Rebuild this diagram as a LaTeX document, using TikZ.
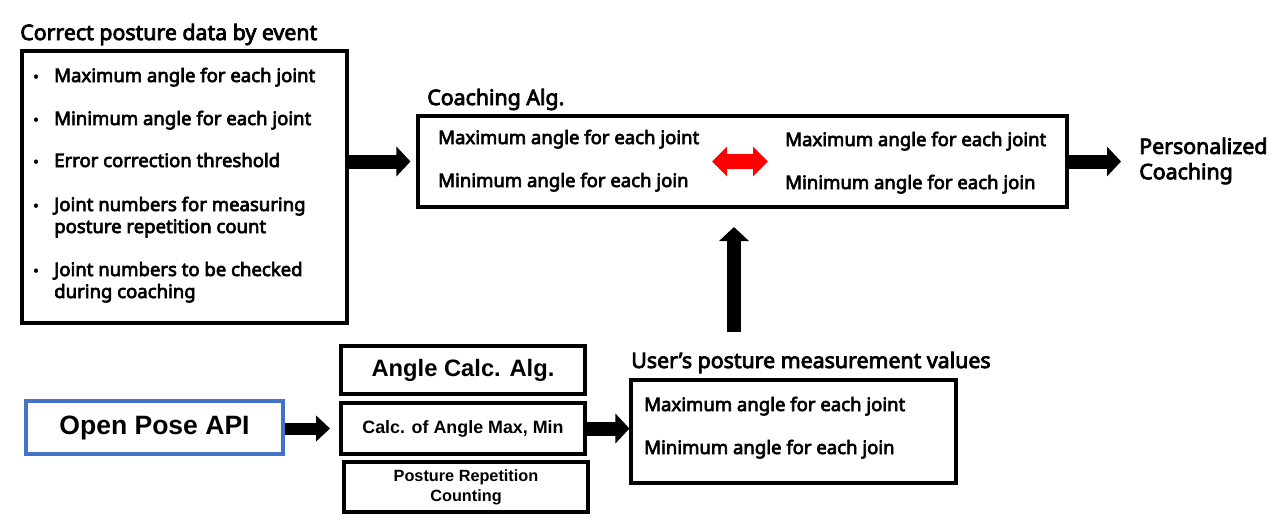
\documentclass[tikz,border=0pt]{standalone}
\usepackage{fontspec}
\setmainfont{Noto Sans}[AutoFakeBold=3.6]
\newfontfamily\arialf{Liberation Sans}
\usetikzlibrary{arrows.meta,fit}
\definecolor{opblue}{HTML}{4472C4}
\definecolor{arred}{HTML}{FF0000}
\begin{document}
\begin{tikzpicture}[x=0.75pt,y=-0.75pt,
  box/.style={draw=black,line width=2.3pt,inner sep=0pt},
  lbox/.style={draw=black,line width=2.7pt,inner sep=0pt},
  txt/.style={inner sep=0pt,anchor=base west,font=\fontsize{13.9pt}{16pt}\selectfont\bfseries},
  ttl/.style={inner sep=0pt,anchor=base west,font=\fontsize{16pt}{18pt}\selectfont\bfseries},
  bul/.style={inner sep=0pt,anchor=base,font=\fontsize{11pt}{13pt}\selectfont\bfseries},
  blk/.style={draw=black,line width=10.5pt,-{Triangle[length=10.5pt,width=21.75pt]}},
  arl/.style={inner sep=0pt}
]
\useasboundingbox (0,0) rectangle (1282,526);

% top-left block
\node[ttl] (t1) at (20,40) {Correct posture data by event};
\node[box,fit={(22,51)(347,323)}] (box1) {};
\node[bul] (b1) at (36,82) {•};
\node[txt] (l1) at (54,82) {Maximum angle for each joint};
\node[bul] (b2) at (36,125) {•};
\node[txt] (l2) at (54,125) {Minimum angle for each joint};
\node[bul] (b3) at (36,167) {•};
\node[txt] (l3) at (54,167) {Error correction threshold};
\node[bul] (b4) at (36,211) {•};
\node[txt] (l4) at (54,211) {Joint numbers for measuring};
\node[txt] (l4b) at (54,233) {posture repetition count};
\node[bul] (b5) at (36,276) {•};
\node[txt] (l5) at (54,276) {Joint numbers to be checked};
\node[txt] (l5b) at (54,298) {during coaching};

% coaching algorithm
\node[ttl] (t2) at (427,105) {Coaching Alg.};
\node[box,fit={(418,116)(1067,207)}] (box2) {};
\node[txt] (c1) at (438,144) {Maximum angle for each joint};
\node[txt] (c2) at (438,187) {Minimum angle for each join};
\node[txt] (c3) at (785,146) {Maximum angle for each joint};
\node[txt] (c4) at (785,189) {Minimum angle for each join};
\coordinate (ra) at (712,161.5);
\coordinate (rb) at (768,161.5);
\draw[draw=arred,line width=11.25pt,{Triangle[length=11.25pt,width=21.75pt]}-{Triangle[length=11.25pt,width=21.75pt]}] (ra) -- (rb);

% personalized coaching
\node[inner sep=0pt,anchor=west,align=left,font=\fontsize{16pt}{19pt}\selectfont\bfseries] (pers) at (1139,161) {Personalized\\Coaching};

% bottom
\node[lbox,draw=opblue,fit={(26,401)(283,454)}] (op) {};
\node[arl,font=\arialf\bfseries\fontsize{19.9pt}{22pt}\selectfont] (opt) at (op.center) {Open Pose API};
\node[lbox,fit={(341,346)(585,394)}] (ang) {};
\node[arl,font=\arialf\bfseries\fontsize{17.8pt}{20pt}\selectfont] (angt) at (ang.center) {Angle Calc. Alg.};
\node[lbox,fit={(341,403)(585,454)}] (calc) {};
\node[arl,font=\arialf\bfseries\fontsize{13.4pt}{16pt}\selectfont] (calct) at (calc.center) {Calc. of Angle Max, Min};
\node[lbox,fit={(344,462)(588,512)}] (rep) {};
\node[arl,align=center,font=\arialf\bfseries\fontsize{12.2pt}{15pt}\selectfont] (rept) at (rep.center) {Posture Repetition\\Counting};

\node[ttl] (t3) at (631,368) {User’s posture measurement values};
\node[box,fit={(631,380)(956,483)}] (ubox) {};
\node[txt] (u1) at (644,411) {Maximum angle for each joint};
\node[txt] (u2) at (644,454) {Minimum angle for each join};

% block arrows
\draw[blk,shorten >=4.5pt] (box1.east |- box2.west) -- (box2.west);
\draw[blk] (box2.east) -- (1121,161.5) coordinate (pend);
\coordinate (upstart) at (734,332);
\draw[blk] (upstart) -- (734,227) coordinate (upend);
\draw[blk,line width=9pt,-{Triangle[length=10.5pt,width=19pt]}] (op.east |- calc.west) -- (330,428.5) coordinate (opend);
\draw[blk] (calc.east) -- (calc.east -| ubox.west);
\end{tikzpicture}
\end{document}
